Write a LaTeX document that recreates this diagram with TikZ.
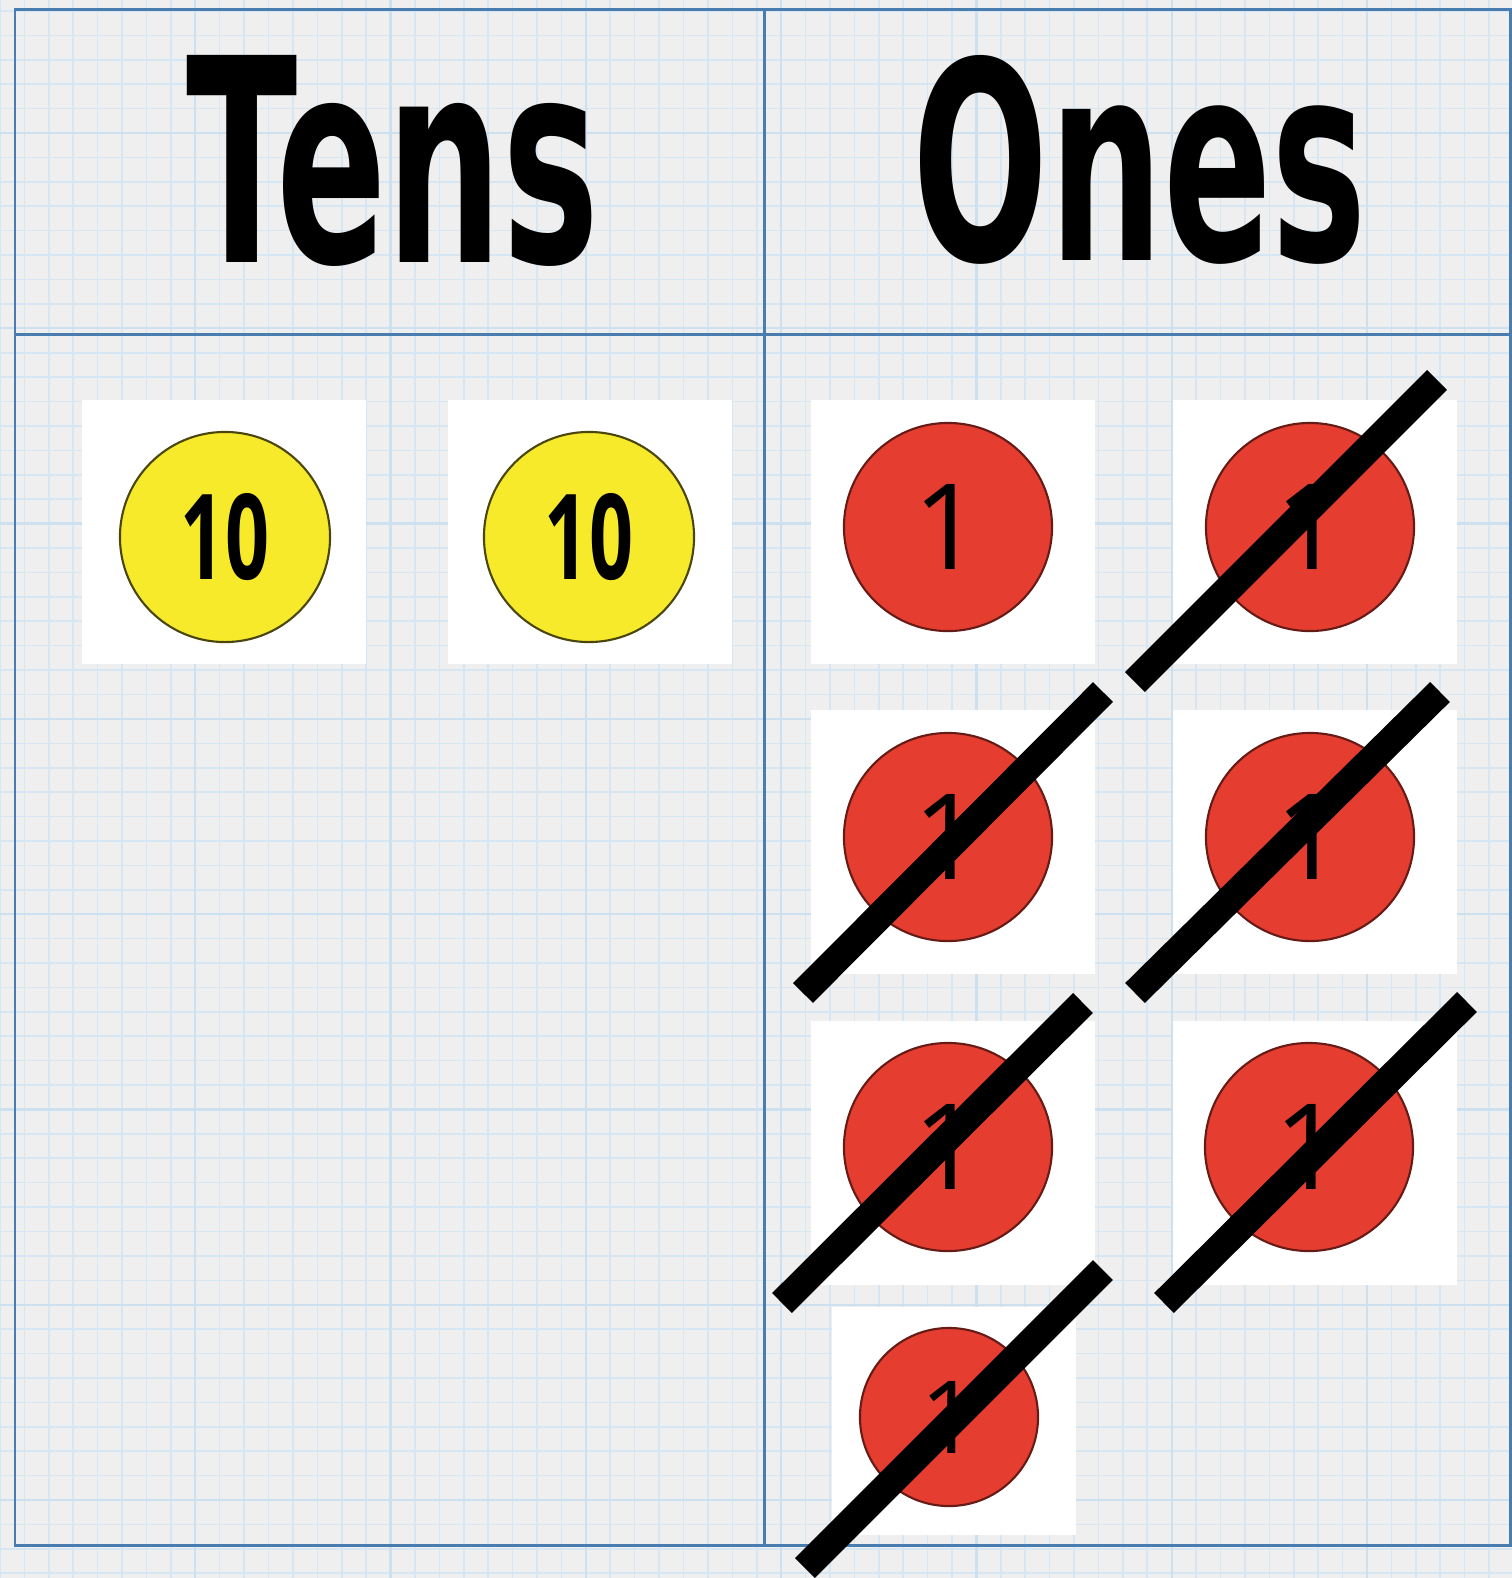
\documentclass[tikz,border=0pt]{standalone}
\usepackage{fontspec}
\setmainfont{Liberation Sans}
\newfontfamily\headfont{DejaVu Sans}
\newfontfamily\coinfont{Open Sans}
\usepackage{graphicx}
\usepackage{xcolor}
\definecolor{paper}{HTML}{EFEFEF}
\definecolor{gridminor}{HTML}{D6E6F3}
\definecolor{gridmajor}{HTML}{CCE0F0}
\definecolor{tableline}{HTML}{4A7DAF}
\definecolor{coinyellow}{HTML}{F6EA2A}
\definecolor{coinred}{HTML}{E53D30}
\usepackage{tikz}
\usetikzlibrary{calc}

\begin{document}
\begin{tikzpicture}[
  x=0.01cm, y=-0.01cm,
  minorline/.style={draw=gridminor, line width=0.45pt},
  majorline/.style={draw=gridmajor, line width=0.65pt},
  tableedge/.style={draw=tableline, line width=0.85pt},
  heading/.style={inner sep=0pt, anchor=base},
  tile/.style={fill=white, inner sep=0pt,
               minimum width=2.84cm, minimum height=2.64cm},
  smalltile/.style={tile, minimum width=2.44cm, minimum height=2.28cm},
  tencoin/.style={circle, fill=coinyellow, draw=coinyellow!30!black,
                  line width=0.6pt, minimum size=2.1cm, inner sep=0pt},
  onecoin/.style={circle, fill=coinred, draw=coinred!45!black,
                  line width=0.6pt, minimum size=2.08cm, inner sep=0pt},
  smallcoin/.style={onecoin, minimum size=1.78cm},
  strike/.style={draw=black, line width=0.28cm}
]
\useasboundingbox (0,0) rectangle (1512,1578);

% ---- Papier quadrille ----
\fill[paper] (0,0) rectangle (1512,1578);
\foreach \i in {0,...,62}
  \draw[minorline] ({\i*24.41},0) -- ({\i*24.41},1578);
\foreach \j in {0,...,64}
  \draw[minorline] (0,{11+\j*24.41}) -- (1512,{11+\j*24.41});
\foreach \i in {1,...,7}
  \draw[majorline] ({\i*195.3},0) -- ({\i*195.3},1578);
\foreach \j in {0,...,7}
  \draw[majorline] (0,{133+\j*195.3}) -- (1512,{133+\j*195.3});

% ---- Tableau ----
\draw[tableedge] (15,9) rectangle (1510,1545);
\draw[tableedge] (764,9) -- (764,1545);
\draw[tableedge] (15,334) -- (1510,334);

\node[heading] (tens) at (393,262) {\resizebox{4.13cm}{2.07cm}{\headfont\bfseries Tens}};
\node[heading] (ones) at (1140,260) {\resizebox{4.54cm}{2.05cm}{\headfont\bfseries Ones}};

% ---- Dizaines ----
\node[tile] (t1) at (224,532) {};
\node[tile] (t2) at (590,532) {};
\node[tencoin] (d1) at (225,537) {\resizebox{0.88cm}{0.86cm}{\coinfont\bfseries 10}};
\node[tencoin] (d2) at (589,537) {\resizebox{0.88cm}{0.86cm}{\coinfont\bfseries 10}};

% ---- Unites ----
\node[tile] (u1) at (953,532)  {};
\node[tile] (u2) at (1315,532) {};
\node[tile] (u3) at (953,842)  {};
\node[tile] (u4) at (1315,842) {};
\node[tile] (u5) at (953,1153) {};
\node[tile] (u6) at (1315,1153) {};
\node[smalltile] (u7) at (954,1421) {};

\node[onecoin] (o1) at (948,527)   {\resizebox{!}{0.85cm}{\coinfont 1}};
\node[onecoin] (o2) at (1310,527)  {\resizebox{!}{0.85cm}{\coinfont 1}};
\node[onecoin] (o3) at (948,837)   {\resizebox{!}{0.85cm}{\coinfont 1}};
\node[onecoin] (o4) at (1310,837)  {\resizebox{!}{0.85cm}{\coinfont 1}};
\node[onecoin] (o5) at (948,1147)  {\resizebox{!}{0.85cm}{\coinfont 1}};
\node[onecoin] (o6) at (1309,1147) {\resizebox{!}{0.85cm}{\coinfont 1}};
\node[smallcoin] (o7) at (949,1417) {\resizebox{!}{0.72cm}{\coinfont 1}};

% ---- Barres ----
\draw[strike] ($(o2)+(-175,155)$) -- ($(o2)+(127,-147)$);
\draw[strike] ($(o3)+(-145,156)$) -- ($(o3)+(155,-145)$);
\draw[strike] ($(o4)+(-175,156)$) -- ($(o4)+(130,-145)$);
\draw[strike] ($(o5)+(-166,156)$) -- ($(o5)+(135,-144)$);
\draw[strike] ($(o6)+(-145,156)$) -- ($(o6)+(158,-145)$);
\draw[strike] ($(o7)+(-144,151)$) -- ($(o7)+(154,-147)$);

\end{tikzpicture}
\end{document}
